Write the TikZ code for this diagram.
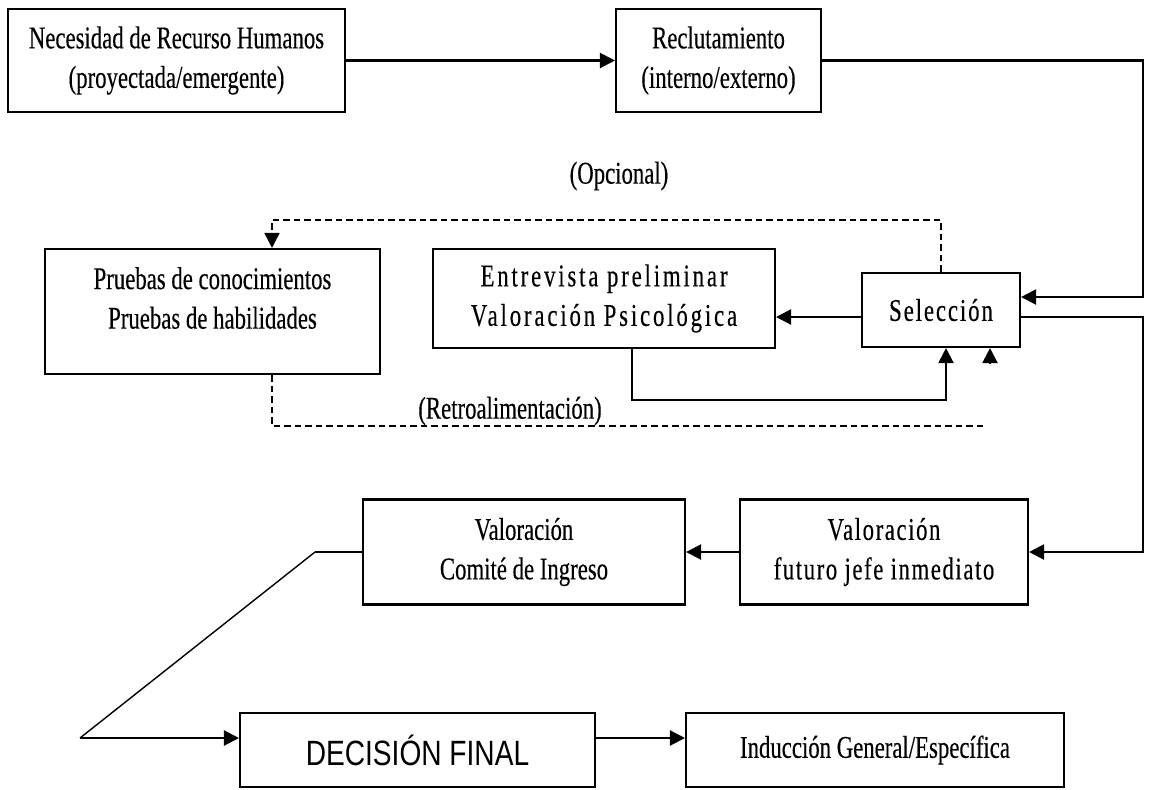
\documentclass[tikz,border=0pt]{standalone}
\usepackage{fontspec}
\setmainfont[FakeStretch=0.72,FakeBold=0.3]{Liberation Serif}
\newfontfamily\decfont[FakeStretch=0.8]{Liberation Sans}
\usetikzlibrary{arrows.meta}

\begin{document}
\begin{tikzpicture}[x=0.02cm, y=-0.02cm,
    box/.style={draw, line width=1.2pt, inner sep=0pt, align=center, font=\fontsize{18}{22.5}\selectfont},
    wide/.style={font=\fontsize{18}{22.5}\selectfont\addfontfeature{LetterSpace=#1}},
    lbl/.style={inner sep=0pt, align=center, font=\fontsize{18}{22.5}\selectfont},
    flow/.style={line width=1.2pt},
    arr/.style={-{Triangle[length=0.3cm,width=0.3cm]}},
    opt/.style={line width=0.9pt, dash pattern=on 0.13cm off 0.08cm}]
      \useasboundingbox (0,0) rectangle (1149,789);

      \node[box, minimum width=6.74cm, minimum height=2.06cm] (nec) at (176.5,60.5) {Necesidad de Recurso Humanos\\(proyectada/emergente)};
      \node[box, minimum width=4.10cm, minimum height=2.06cm] (rec) at (718.5,60.5) {Reclutamiento\\(interno/externo)};
      \node[box, minimum width=6.70cm, minimum height=2.50cm] (pru) at (212.5,311.5) {};
      \node[lbl] (prutxt) at (212.5,298) {Pruebas de conocimientos\\Pruebas de habilidades};
      \node[box, wide=9, minimum width=6.84cm, minimum height=1.98cm] (ent) at (604,298.5) {Entrevista preliminar\\Valoración Psicológica};
      \node[box, wide=6, minimum width=3.16cm, minimum height=1.48cm] (sel) at (941,310) {Selección};
      \node[box, wide=5, minimum width=5.76cm, minimum height=2.10cm] (jef) at (884,552) {Valoración\\futuro jefe inmediato};
      \node[box, minimum width=6.44cm, minimum height=2.10cm] (com) at (524,552) {Valoración\\Comité de Ingreso};
      \node[box, minimum width=7.10cm, minimum height=1.48cm, font=\decfont\fontsize{20}{24}\selectfont] (dec) at (417.5,750) {DECISIÓN FINAL};
      \node[box, minimum width=7.56cm, minimum height=1.48cm] (ind) at (875,750) {Inducción General/Específica};
      \node[lbl] (opc) at (619,176) {(Opcional)};
      \node[lbl] (ret) at (510,411) {(Retroalimentación)};

      \coordinate (ne) at (1143,60.5);
      \coordinate (se) at (1143,552);
      \coordinate (selin) at ([yshift=0.26cm]sel.east);
      \coordinate (selout) at ([yshift=-0.14cm]sel.east);
      \coordinate (selw) at ([yshift=-0.14cm]sel.west);
      \coordinate (fb) at (946,400);
      \coordinate (opl) at (272,220);
      \coordinate (rtl) at (272,426);
      \coordinate (rtr) at (985,426);
      \coordinate (stub) at (990,364);
      \coordinate (dg1) at (315,552);
      \coordinate (dg2) at (80,738);
      \coordinate (di) at (600,738);

      \draw[flow, arr] (nec.east) -- (rec.west);
      \draw[flow, arr] (rec.east) -- (ne) |- (selin);
      \draw[flow, arr] (selout) -| (se) -- (jef.east);
      \draw[flow, arr] (selw) -- (selw -| ent.east);
      \draw[flow, arr] ([xshift=0.56cm]ent.south) |- (fb) -- (fb |- sel.south);
      \draw[flow, arr] (stub) -- (stub |- sel.south);
      \draw[opt, arr] (sel.north) -- (sel.north |- opl) -- (opl) -- (opl |- pru.north);
      \draw[opt] (rtl |- pru.south) -- (rtl) -- (rtr);
      \draw[flow, arr] (jef.west) -- (com.east);
      \draw[flow] (com.west) -- (dg1);
      \draw[line width=0.8pt] (dg1) -- (dg2);
      \draw[flow, arr] (dg2) -- (dg2 -| dec.west);
      \draw[flow, arr] (di -| dec.east) -- (di -| ind.west);
\end{tikzpicture}
\end{document}
